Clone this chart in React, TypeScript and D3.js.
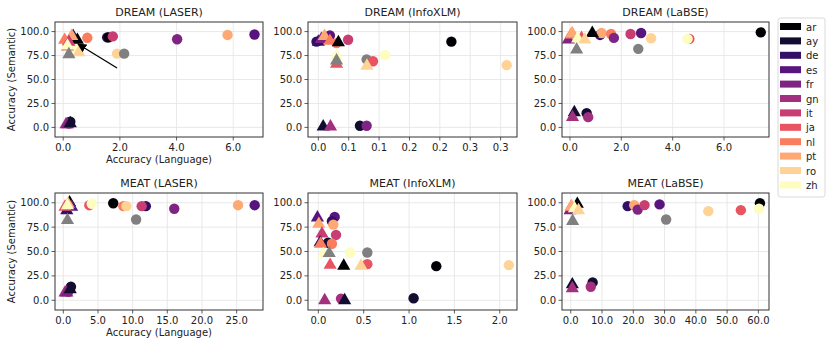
import * as d3 from "d3";

// language order used for colours + legend
const langs = ["ar", "ay", "de", "es", "fr", "gn", "it", "ja", "nl", "pt", "ro", "zh"];
const otherKey = "other"; // grey points, not in legend

type Pt = [string, number, number];

// DREAM (LASER)
const dreamLaserCircles: Pt[] = [
  ["gn", 0.2, 4], ["ay", 0.25, 6], ["ja", 0.15, 88], ["zh", 0.4, 84],
  ["nl", 0.85, 93.5], ["de", 1.55, 94], ["ar", 1.6, 94], ["it", 1.75, 95],
  ["ro", 1.9, 77], [otherKey, 2.15, 77], ["fr", 4.02, 92], ["pt", 5.8, 96.5], ["es", 6.75, 97],
];
const dreamLaserTriangles: Pt[] = [
  ["gn", 0.1, 4], ["fr", 0.15, 4], ["ay", 0.25, 5], ["de", 0.35, 96], ["es", 0.3, 95],
  ["ar", 0.5, 92], ["nl", 0.05, 92], ["pt", 0.3, 96], ["it", 0.2, 90], ["ja", 0.15, 85],
  ["zh", 0.15, 86], ["ro", 0.55, 79], [otherKey, 0.2, 77],
];

// DREAM (InfoXLM)
const dreamInfoCircles: Pt[] = [
  ["de", -0.003, 89.5], ["es", 0.019, 96], ["nl", 0.03, 88], ["it", 0.049, 91.5],
  [otherKey, 0.0795, 71], ["ja", 0.09, 69], ["zh", 0.11, 75.5], ["ar", 0.219, 89.5],
  ["ro", 0.31, 65], ["ay", 0.0685, 1.7], ["fr", 0.0795, 1.7],
];
const dreamInfoTriangles: Pt[] = [
  ["de", 0.0, 90], ["fr", 0.005, 93], ["pt", 0.01, 96], ["nl", 0.019, 91], ["ar", 0.033, 89.5],
  ["zh", 0.03, 75.5], ["ja", 0.03, 67], [otherKey, 0.03, 70.5], ["ro", 0.08, 65],
  ["ay", 0.008, 1.7], ["gn", 0.02, 1.7],
];

// DREAM (LaBSE)
const dreamLabseCircles: Pt[] = [
  ["ay", 0.65, 14.8], ["gn", 0.71, 10.7], ["de", 1.17, 96.5], ["pt", 1.23, 98.5],
  ["nl", 1.6, 97.5], ["fr", 1.71, 93.4], ["it", 2.36, 97.5], ["es", 2.77, 98.5],
  [otherKey, 2.66, 82], ["ro", 3.16, 93], ["ja", 4.65, 92.4], ["zh", 4.58, 92.4], ["ar", 7.43, 99.2],
];
const dreamLabseTriangles: Pt[] = [
  ["fr", -0.06, 92.4], ["nl", 0.04, 97.5], ["pt", 0.09, 99], ["ar", 0.87, 99.2],
  ["ja", 0.45, 94], ["zh", 0.3, 93.4], ["ro", 0.58, 92.4], [otherKey, 0.26, 82],
  ["ay", 0.17, 16.5], ["gn", 0.1, 11.4],
];

// MEAT (LASER)
const meatLaserCircles: Pt[] = [
  ["gn", 0.7, 8.6], ["ay", 1.1, 13.8], ["ja", 3.75, 97.5], ["zh", 4.1, 99], ["ar", 7.2, 99.5],
  ["nl", 8.65, 96.5], ["ro", 9.1, 96.5], [otherKey, 10.5, 82.8], ["de", 11.9, 96.5],
  ["it", 11.3, 96.5], ["fr", 16, 93.8], ["pt", 25.2, 97.5], ["es", 27.6, 97.5],
];
const meatLaserTriangles: Pt[] = [
  ["ar", 0.9, 101], ["es", 1.2, 96.5], ["de", 0.5, 93], ["ja", 0.25, 96.5], ["pt", 0.7, 99.5],
  ["zh", 0.6, 98], [otherKey, 0.6, 82.8], ["gn", 0.25, 8.6], ["fr", 0.5, 8.6], ["ay", 1.0, 12],
];

// MEAT (InfoXLM)
const meatInfoCircles: Pt[] = [
  ["es", 0.18, 85.5], ["de", 0.15, 81], ["pt", 0.165, 77.6], ["it", 0.195, 67],
  ["ay", 0.107, 59], ["nl", 0.15, 58], ["zh", 0.35, 49], [otherKey, 0.54, 49],
  ["ja", 0.54, 37], ["ar", 1.3, 35], ["ro", 2.1, 36], ["ay", 1.05, 2], ["gn", 0.25, 1.7],
];
const meatInfoTriangles: Pt[] = [
  ["es", -0.01, 85.5], ["pt", 0.005, 79], ["it", 0.04, 69], ["de", 0.02, 60], ["nl", 0.025, 58.6],
  ["zh", 0.055, 48], [otherKey, 0.12, 49], ["ja", 0.13, 37], ["ar", 0.28, 36], ["ro", 0.47, 36],
  ["gn", 0.07, 0.7], ["ay", 0.29, 0.7],
];

// MEAT (LaBSE)
const meatLabseCircles: Pt[] = [
  ["de", 18.2, 96.5], ["pt", 20.3, 97.6], ["fr", 21.4, 93], ["it", 23.6, 97.6], ["es", 28.4, 98.3],
  [otherKey, 30.5, 82.8], ["ro", 44, 91.4], ["ja", 54.4, 92.4], ["ar", 60.5, 99.5],
  ["zh", 60.2, 93.8], ["ay", 7, 18.3], ["gn", 6.4, 13.8],
];
const meatLabseTriangles: Pt[] = [
  ["fr", -0.2, 93], ["nl", 0.1, 96.5], ["pt", 0.3, 97], ["ar", 2.1, 99.5], ["zh", 1.2, 95],
  ["ro", 2.5, 93], [otherKey, 0.6, 82], ["ay", 0.5, 17], ["gn", 0.5, 13],
];

const yTicks = [0, 25, 50, 75, 100];
const infoDreamTickLabels = ["0.0", "0.1", "0.1", "0.2", "0.2", "0.3", "0.3"];

const color = (k: string) =>
  k === otherKey ? "#808080" : d3.interpolateMagma(langs.indexOf(k) / (langs.length - 1));

const W = 831;
const H = 347;
const cols = [[55, 263], [308, 517], [562, 769]];
const rows = [[22, 137], [193, 310]];

const panels = [
  { title: "DREAM (LASER)", c: dreamLaserCircles, t: dreamLaserTriangles, dom: [-0.29, 7.05], ticks: [0, 2, 4, 6], col: 0, row: 0, arrow: [1.9, 62, 0.52, 87] },
  { title: "DREAM (InfoXLM)", c: dreamInfoCircles, t: dreamInfoTriangles, dom: [-0.017, 0.327], ticks: [0, 0.05, 0.1, 0.15, 0.2, 0.25, 0.3], labels: infoDreamTickLabels, col: 1, row: 0 },
  { title: "DREAM (LaBSE)", c: dreamLabseCircles, t: dreamLabseTriangles, dom: [-0.31, 7.75], ticks: [0, 2, 4, 6], col: 2, row: 0 },
  { title: "MEAT (LASER)", c: meatLaserCircles, t: meatLaserTriangles, dom: [-1.2, 28.8], ticks: [0, 5, 10, 15, 20, 25], col: 0, row: 1 },
  { title: "MEAT (InfoXLM)", c: meatInfoCircles, t: meatInfoTriangles, dom: [-0.114, 2.19], ticks: [0, 0.5, 1, 1.5, 2], col: 1, row: 1 },
  { title: "MEAT (LaBSE)", c: meatLabseCircles, t: meatLabseTriangles, dom: [-2.8, 63.4], ticks: [0, 10, 20, 30, 40, 50, 60], col: 2, row: 1 },
];

const font = "DejaVu Sans, sans-serif";
const tri = d3.symbol(d3.symbolTriangle, 75)();

function Panel({ p }: { p: any }) {
  const [x0, x1] = cols[p.col];
  const [y0, y1] = rows[p.row];
  const x = d3.scaleLinear().domain(p.dom).range([x0, x1]);
  const y = d3.scaleLinear().domain([-10, 110]).range([y1, y0]);
  const fmt = d3.format(".1f");
  return (
    <g>
      {/* grid */}
      {p.ticks.map((t: number) => (
        <line key={"gx" + t} x1={x(t)} x2={x(t)} y1={y0} y2={y1} stroke="#e3e3e3" strokeWidth={0.8} />
      ))}
      {yTicks.map((t) => (
        <line key={"gy" + t} x1={x0} x2={x1} y1={y(t)} y2={y(t)} stroke="#e3e3e3" strokeWidth={0.8} />
      ))}
      {/* points */}
      {p.c.map((d: Pt, i: number) => (
        <circle key={"c" + i} cx={x(d[1])} cy={y(d[2])} r={5.2} fill={color(d[0])} />
      ))}
      {p.t.map((d: Pt, i: number) => (
        <path key={"t" + i} d={tri!} transform={`translate(${x(d[1])},${y(d[2]) + 0.8})`} fill={color(d[0])} />
      ))}
      {p.arrow && (
        <line x1={x(p.arrow[0])} y1={y(p.arrow[1])} x2={x(p.arrow[2])} y2={y(p.arrow[3])} stroke="#000" strokeWidth={1.3} markerEnd="url(#ah)" />
      )}
      {/* frame */}
      <rect x={x0} y={y0} width={x1 - x0} height={y1 - y0} fill="none" stroke="#333" strokeWidth={1} />
      {/* x ticks */}
      {p.ticks.map((t: number, i: number) => (
        <g key={"xt" + i}>
          <line x1={x(t)} x2={x(t)} y1={y1} y2={y1 + 3.5} stroke="#333" strokeWidth={0.8} />
          <text x={x(t)} y={y1 + 13.5} fontSize={10} textAnchor="middle" fontFamily={font} fill="#222">
            {p.labels ? p.labels[i] : fmt(t)}
          </text>
        </g>
      ))}
      {/* y ticks */}
      {yTicks.map((t) => (
        <g key={"yt" + t}>
          <line x1={x0 - 3.5} x2={x0} y1={y(t)} y2={y(t)} stroke="#333" strokeWidth={0.8} />
          <text x={x0 - 6} y={y(t) + 3.6} fontSize={10} textAnchor="end" fontFamily={font} fill="#222">
            {fmt(t)}
          </text>
        </g>
      ))}
      <text x={(x0 + x1) / 2} y={y0 - 6} fontSize={11} textAnchor="middle" fontFamily={font} fill="#222">
        {p.title}
      </text>
      {p.col === 0 && (
        <>
          <text x={(x0 + x1) / 2} y={y1 + 26} fontSize={10} textAnchor="middle" fontFamily={font} fill="#222">
            Accuracy (Language)
          </text>
          <text transform={`translate(15,${(y0 + y1) / 2}) rotate(-90)`} fontSize={10} textAnchor="middle" fontFamily={font} fill="#222">
            Accuracy (Semantic)
          </text>
        </>
      )}
    </g>
  );
}

function Legend() {
  const lx = 778;
  const ly = 18;
  const step = 14.4;
  return (
    <g>
      <rect x={lx} y={ly} width={47} height={179} rx={2.5} fill="#fff" stroke="#cfcfcf" strokeWidth={0.8} />
      {langs.map((l, i) => (
        <g key={l}>
          <rect x={lx + 2} y={ly + 5 + i * step} width={21} height={7} fill={color(l)} />
          <text x={lx + 28} y={ly + 12.5 + i * step} fontSize={10} fontFamily={font} fill="#222">
            {l}
          </text>
        </g>
      ))}
    </g>
  );
}

export default function App() {
  return (
    <svg width={W} height={H} style={{ position: "absolute", left: 0, top: 0, background: "#fff" }}>
      <defs>
        <marker id="ah" viewBox="0 0 10 10" refX="9" refY="5" markerWidth="7" markerHeight="7" orient="auto">
          <path d="M0,0 L10,5 L0,10 z" fill="#000" />
        </marker>
      </defs>
      {panels.map((p) => (
        <Panel key={p.title} p={p} />
      ))}
      <Legend />
    </svg>
  );
}
